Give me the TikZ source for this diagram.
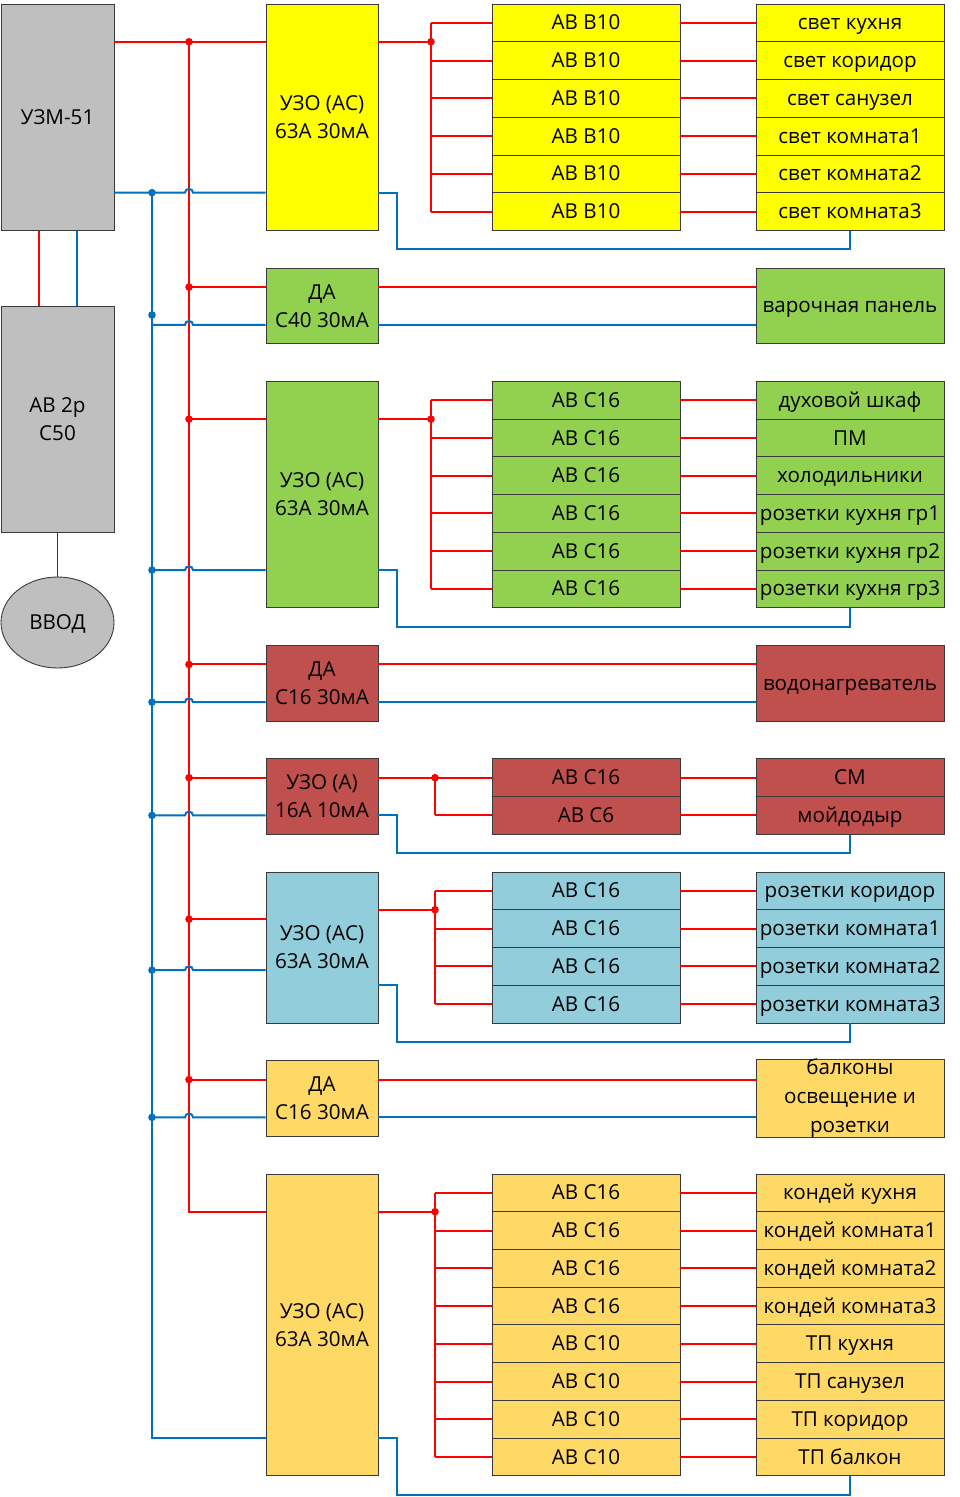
\documentclass[tikz,border=0pt]{standalone}
\usepackage{fontspec}
\setmainfont{Open Sans}
\usetikzlibrary{calc,shapes.geometric}
\definecolor{cyel}{HTML}{FFFF00}
\definecolor{cgrn}{HTML}{92D050}
\definecolor{cred}{HTML}{C0504D}
\definecolor{cblu}{HTML}{92CDDC}
\definecolor{corg}{HTML}{FFD966}
\definecolor{cgry}{HTML}{BFBFBF}
\definecolor{wred}{HTML}{FF0000}
\definecolor{wblu}{HTML}{0070C0}
\definecolor{bord}{HTML}{3A3A3A}
\tikzset{
  cellbox/.style={draw=bord, line width=0.9pt, inner sep=0pt, align=center, font=\fontsize{20.6}{28}\selectfont},
  oneline/.style={text height=14pt, text depth=0pt},
  rw/.style={draw=wred, line width=2pt},
  bw/.style={draw=wblu, line width=2pt},
  gw/.style={draw=bord, line width=1pt},
}
\newcommand\Y[1]{(4+(#1)*37.74)}
\newcommand\cellat[8][]{\node[cellbox,#1,fill=#7,minimum width={(#5)-(#3)},minimum height={(#6)-(#4)}] (#2) at ({((#3)+(#5))/2},{((#4)+(#6))/2}) {#8};}
\newcommand\stackcells[6]{\foreach \t [count=\i] in {#6} {\cellat[oneline]{#1\i}{#2}{\Y{#4+\i-1}}{#3}{\Y{#4+\i}}{#5}{\t}}}
\newcommand\hop[3]{\draw[bw] (#1) -- ($(rb |- #2)+(-4,0)$) .. controls +(0,-5) and +(0,-5) .. ($(rb |- #2)+(4,0)$) -- (#3);}
\newcommand\rdot[1]{\fill[wred] (#1) circle (3.8pt);}
\newcommand\bdot[1]{\fill[wblu] (#1) circle (3.8pt);}
\begin{document}
\begin{tikzpicture}[x=1pt,y=-1pt]
\fill[white] (0,0) rectangle (959,1497);
\useasboundingbox (0,0) rectangle (959,1497);

% left column
\cellat[oneline]{uzm}{1}{4}{114}{230.44}{cgry}{УЗМ-51}
\cellat{ab2p}{1}{306}{114}{532}{cgry}{АВ 2р\\С50}
\node[cellbox, oneline, ellipse, fill=cgry, minimum width=113pt, minimum height=91pt] (vvod) at (57.5,622.5) {ВВОД};
\draw[rw] ($(uzm.south west)!0.336!(uzm.south east)$) -- ($(ab2p.north west)!0.336!(ab2p.north east)$);
\draw[bw] ($(uzm.south west)!0.673!(uzm.south east)$) -- ($(ab2p.north west)!0.673!(ab2p.north east)$);
\draw[gw] (ab2p.south) -- (vvod.north);

% protective devices
\cellat{g1u}{266}{\Y{0}}{378}{\Y{6}}{cyel}{УЗО (АС)\\63А 30мА}
\cellat{g2d}{266}{\Y{7}}{378}{\Y{9}}{cgrn}{ДА\\С40 30мА}
\cellat{g3u}{266}{\Y{10}}{378}{\Y{16}}{cgrn}{УЗО (АС)\\63А 30мА}
\cellat{g4d}{266}{\Y{17}}{378}{\Y{19}}{cred}{ДА\\С16 30мА}
\cellat{g5u}{266}{\Y{20}}{378}{\Y{22}}{cred}{УЗО (А)\\16А 10мА}
\cellat{g6u}{266}{\Y{23}}{378}{\Y{27}}{cblu}{УЗО (АС)\\63А 30мА}
\cellat{g7d}{266}{\Y{28}}{378}{\Y{30}}{corg}{ДА\\С16 30мА}
\cellat{g8u}{266}{\Y{31}}{378}{\Y{39}}{corg}{УЗО (АС)\\63А 30мА}

% breakers and loads
\stackcells{g1a}{492}{680}{0}{cyel}{АВ В10,АВ В10,АВ В10,АВ В10,АВ В10,АВ В10}
\stackcells{g1r}{756}{944}{0}{cyel}{свет кухня,свет коридор,свет санузел,свет комната1,свет комната2,свет комната3}
\cellat[oneline]{g2r}{756}{\Y{7}}{944}{\Y{9}}{cgrn}{варочная панель}
\stackcells{g3a}{492}{680}{10}{cgrn}{АВ С16,АВ С16,АВ С16,АВ С16,АВ С16,АВ С16}
\stackcells{g3r}{756}{944}{10}{cgrn}{духовой шкаф,ПМ,холодильники,розетки кухня гр1,розетки кухня гр2,розетки кухня гр3}
\cellat[oneline]{g4r}{756}{\Y{17}}{944}{\Y{19}}{cred}{водонагреватель}
\stackcells{g5a}{492}{680}{20}{cred}{АВ С16,АВ С6}
\stackcells{g5r}{756}{944}{20}{cred}{СМ,мойдодыр}
\stackcells{g6a}{492}{680}{23}{cblu}{АВ С16,АВ С16,АВ С16,АВ С16}
\stackcells{g6r}{756}{944}{23}{cblu}{розетки коридор,розетки комната1,розетки комната2,розетки комната3}
\cellat[font=\fontsize{20.6}{29}\selectfont]{g7r}{756}{\Y{28}}{944}{\Y{30}}{corg}{балконы\\освещение и\\розетки}
\stackcells{g8a}{492}{680}{31}{corg}{АВ С16,АВ С16,АВ С16,АВ С16,АВ С10,АВ С10,АВ С10,АВ С10}
\stackcells{g8r}{756}{944}{31}{corg}{кондей кухня,кондей комната1,кондей комната2,кондей комната3,ТП кухня,ТП санузел,ТП коридор,ТП балкон}

% bus coordinates
\coordinate (rb) at (189,0);
\coordinate (rj0) at (189,{\Y{1}});
\coordinate (bj0) at (152,{\Y{5}});
\coordinate (rj2) at (189,{\Y{7.5}});
\coordinate (bj2) at (152,{\Y{8.5}});
\coordinate (bd2) at (152,315);
\coordinate (rj3) at (189,{\Y{11}});
\coordinate (bj3) at (152,{\Y{15}});
\coordinate (rj4) at (189,{\Y{17.5}});
\coordinate (bj4) at (152,{\Y{18.5}});
\coordinate (rj5) at (189,{\Y{20.5}});
\coordinate (bj5) at (152,{\Y{21.5}});
\coordinate (rj6) at (189,{\Y{24.25}});
\coordinate (bj6) at (152,{\Y{25.6}});
\coordinate (rj7) at (189,{\Y{28.5}});
\coordinate (bj7) at (152,{\Y{29.5}});
\coordinate (rj8) at (189,{\Y{32}});
\coordinate (bj8) at (152,{\Y{38}});

% buses
\draw[rw] (uzm.east |- rj0) -- (g1u.west |- rj0);
\draw[rw] (rj0) -- (rj8) -- (g8u.west |- rj8);
\draw[bw] (bj0) -- (bj8) -- (g8u.west |- bj8);
\hop{uzm.east |- bj0}{bj0}{g1u.west |- bj0}
\foreach \g/\d in {2/d,3/u,4/d,5/u,6/u,7/d} {
  \draw[rw] (rj\g) -- (g\g\d.west |- rj\g);
  \hop{bj\g}{bj\g}{g\g\d.west |- bj\g}
}
\foreach \g in {0,2,3,4,5,6,7} {\rdot{rj\g}}
\foreach \g in {0,3,4,5,6,7} {\bdot{bj\g}}
\bdot{bd2}

% single-load groups
\foreach \g in {2,4,7} {
  \draw[rw] (g\g d.east |- rj\g) -- (g\g r.west |- rj\g);
  \draw[bw] (g\g d.east |- bj\g) -- (g\g r.west |- bj\g);
}

% group 1
\coordinate (g1o) at (431,{\Y{1}});
\coordinate (g1t) at (397,{\Y{6.5}});
\draw[rw] (g1u.east |- g1o) -- (g1o);
\draw[rw] (g1a1.west -| g1o) -- (g1a6.west -| g1o);
\foreach \i in {1,...,6} {\draw[rw] (g1a\i.west -| g1o) -- (g1a\i.west); \draw[rw] (g1a\i.east) -- (g1r\i.west);}
\rdot{g1o}
\draw[bw] (g1u.east |- bj0) -| (g1t) -| (g1r6.south);

% group 3
\coordinate (g3o) at (431,{\Y{11}});
\coordinate (g3t) at (397,{\Y{16.5}});
\draw[rw] (g3u.east |- g3o) -- (g3o);
\draw[rw] (g3a1.west -| g3o) -- (g3a6.west -| g3o);
\foreach \i in {1,...,6} {\draw[rw] (g3a\i.west -| g3o) -- (g3a\i.west); \draw[rw] (g3a\i.east) -- (g3r\i.west);}
\rdot{g3o}
\draw[bw] (g3u.east |- bj3) -| (g3t) -| (g3r6.south);

% group 5
\coordinate (g5o) at (435,{\Y{20.5}});
\coordinate (g5t) at (397,{\Y{22.5}});
\draw[rw] (g5u.east |- g5o) -- (g5o);
\draw[rw] (g5a1.west -| g5o) -- (g5a2.west -| g5o);
\foreach \i in {1,2} {\draw[rw] (g5a\i.west -| g5o) -- (g5a\i.west); \draw[rw] (g5a\i.east) -- (g5r\i.west);}
\rdot{g5o}
\draw[bw] (g5u.east |- bj5) -| (g5t) -| (g5r2.south);

% group 6
\coordinate (g6o) at (435,{\Y{24}});
\coordinate (g6b) at (397,{\Y{26}});
\coordinate (g6t) at (397,{\Y{27.5}});
\draw[rw] (g6u.east |- g6o) -- (g6o);
\draw[rw] (g6a1.west -| g6o) -- (g6a4.west -| g6o);
\foreach \i in {1,...,4} {\draw[rw] (g6a\i.west -| g6o) -- (g6a\i.west); \draw[rw] (g6a\i.east) -- (g6r\i.west);}
\rdot{g6o}
\draw[bw] (g6u.east |- g6b) -| (g6t) -| (g6r4.south);

% group 8
\coordinate (g8o) at (435,{\Y{32}});
\coordinate (g8t) at (397,{\Y{39.5}});
\draw[rw] (g8u.east |- g8o) -- (g8o);
\draw[rw] (g8a1.west -| g8o) -- (g8a8.west -| g8o);
\foreach \i in {1,...,8} {\draw[rw] (g8a\i.west -| g8o) -- (g8a\i.west); \draw[rw] (g8a\i.east) -- (g8r\i.west);}
\rdot{g8o}
\draw[bw] (g8u.east |- bj8) -| (g8t) -| (g8r8.south);
\end{tikzpicture}
\end{document}
